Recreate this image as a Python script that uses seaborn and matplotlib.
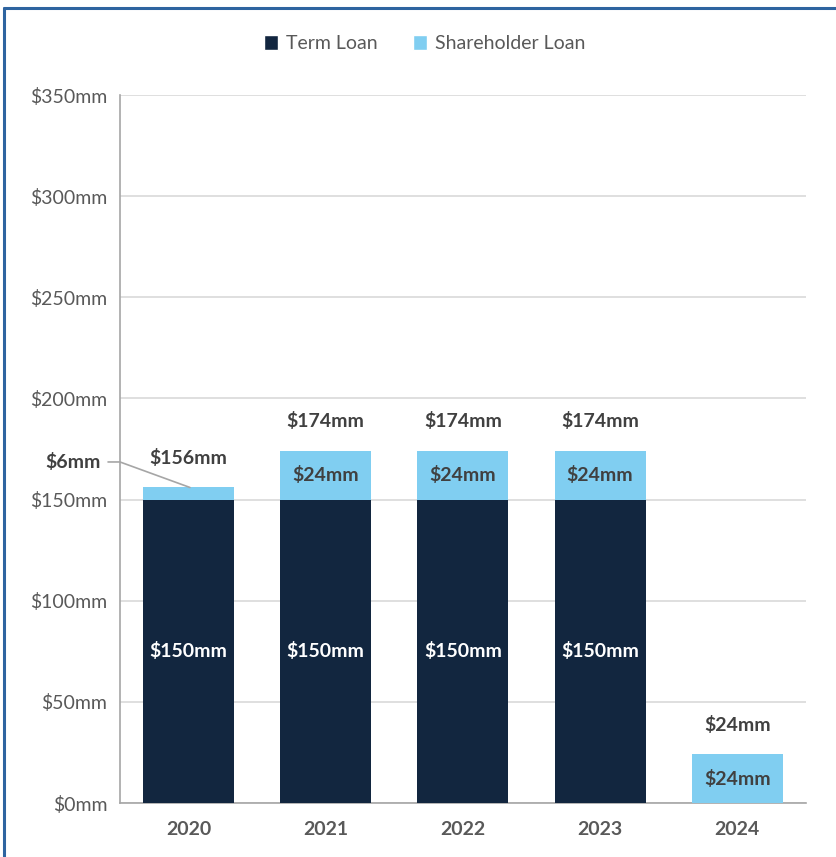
import numpy as np
import pandas as pd
import seaborn as sns
import matplotlib.pyplot as plt
from matplotlib.patches import Patch
from matplotlib.lines import Line2D

# data
years = ['2020', '2021', '2022', '2023', '2024']
term_loan = [150, 150, 150, 150, 0]
shareholder_loan = [6, 24, 24, 24, 24]
yticks = [0, 50, 100, 150, 200, 250, 300, 350]

navy = '#12263F'
light_blue = '#80CEF1'
txt = '#404040'
tick_col = '#595959'
fs = 14

df = pd.DataFrame({'year': years, 'term': term_loan, 'share': shareholder_loan})
df['total'] = df['term'] + df['share']

sns.set_style('white')
plt.rcParams['font.family'] = ['Lato', 'DejaVu Sans']

fig = plt.figure(figsize=(8.36, 8.57), dpi=100)
ax = fig.add_axes([0.1435, 0.063, 0.8205, 0.8261])

# stacked: total first (light blue), term loan on top of it
sns.barplot(data=df, x='year', y='total', color=light_blue, width=0.663,
            saturation=1, linewidth=0, ax=ax, zorder=3)
sns.barplot(data=df, x='year', y='term', color=navy, width=0.663,
            saturation=1, linewidth=0, ax=ax, zorder=3)

ax.set_ylim(0, 350)
ax.set_xlim(-0.5, len(years) - 0.5)
ax.set_yticks(yticks)
ax.set_yticklabels(['$%dmm' % v for v in yticks], fontsize=fs, color=tick_col)
ax.set_xticklabels(years, fontsize=fs, fontweight='bold', color=tick_col)
ax.set_xlabel('')
ax.set_ylabel('')
ax.grid(axis='y', color='#D9D9D9', linewidth=1.2, zorder=0)
ax.set_axisbelow(True)
for s in ['top', 'right']:
    ax.spines[s].set_visible(False)
for s in ['left', 'bottom']:
    ax.spines[s].set_color('#A6A6A6')
    ax.spines[s].set_linewidth(1.2)
ax.tick_params(axis='y', length=5, color='#A6A6A6', width=1.2, pad=4)
ax.tick_params(axis='x', length=0, pad=13)

# value labels
for i, row in df.iterrows():
    if row['term'] > 0:
        ax.text(i, row['term'] / 2, '$%dmm' % row['term'], ha='center', va='center',
                color='white', fontsize=fs, fontweight='bold', zorder=5)
    if row['share'] >= 20:
        ax.text(i, row['term'] + row['share'] / 2, '$%dmm' % row['share'], ha='center',
                va='center', color=txt, fontsize=fs, fontweight='bold', zorder=5)
    ax.annotate('$%dmm' % row['total'], (i, row['total']), xytext=(0, 21.5),
                textcoords='offset points', ha='center', va='center',
                color=txt, fontsize=fs, fontweight='bold')

# leader line for the small 2020 shareholder segment
ax.plot([-0.587, -0.5, 0.01], [168.6, 168.6, df['total'][0]], color='#A6A6A6',
        linewidth=1.2, clip_on=False, zorder=6)
ax.text(-0.64, 168.6, '$%dmm' % shareholder_loan[0], ha='right', va='center',
        color=txt, fontsize=fs, fontweight='bold')

# legend
handles = [Patch(facecolor=navy, label='Term Loan'),
           Patch(facecolor=light_blue, label='Shareholder Loan')]
fig.legend(handles=handles, loc='center', bbox_to_anchor=(0.508, 0.949), ncol=2,
           frameon=False, fontsize=fs, handlelength=0.75, handleheight=0.75,
           handletextpad=0.4, columnspacing=1.8, labelcolor=tick_col)

# outer frame (top and left edges visible)
fig.add_artist(Line2D([0.005, 0.005], [0, 0.991], color='#2E64A0', linewidth=2.2,
                      transform=fig.transFigure))
fig.add_artist(Line2D([0.005, 1.0], [0.991, 0.991], color='#2E64A0', linewidth=2.2,
                      transform=fig.transFigure))

plt.savefig('out.png', dpi=100)
